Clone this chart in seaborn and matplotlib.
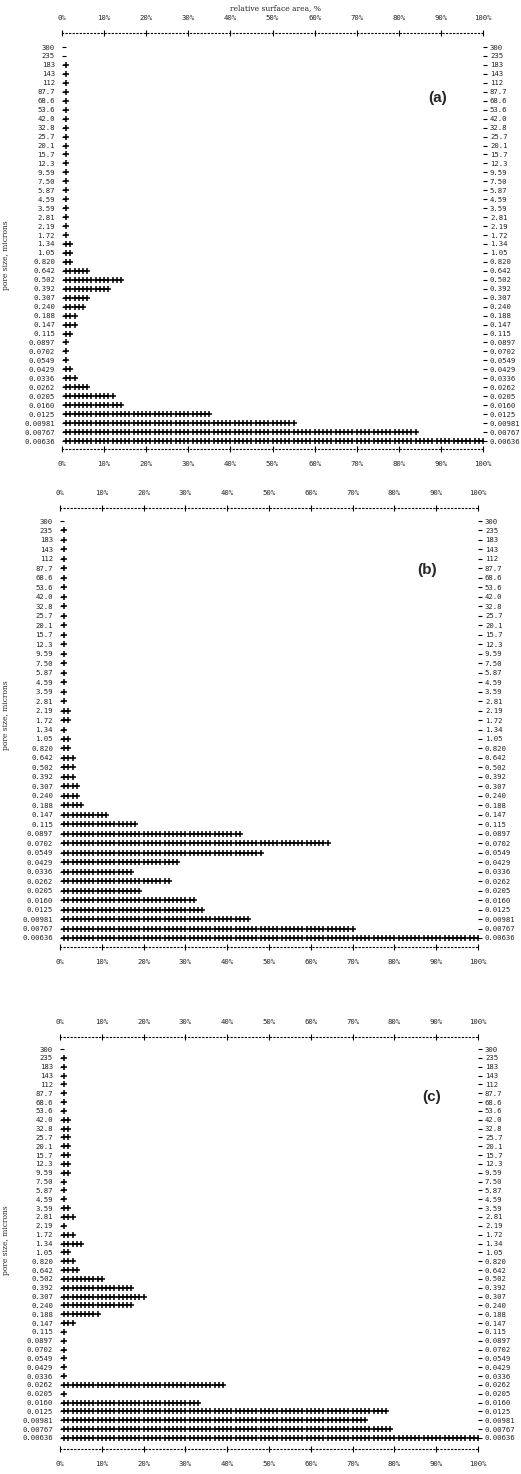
import numpy as np
import pandas as pd
import matplotlib
matplotlib.use("Agg")
import matplotlib.pyplot as plt
import seaborn as sns

# ---------------- data ----------------
pore_sizes = ["300", "235", "183", "143", "112", "87.7", "68.6", "53.6", "42.0",
              "32.8", "25.7", "20.1", "15.7", "12.3", "9.59", "7.50", "5.87",
              "4.59", "3.59", "2.81", "2.19", "1.72", "1.34", "1.05", "0.820",
              "0.642", "0.502", "0.392", "0.307", "0.240", "0.188", "0.147",
              "0.115", "0.0897", "0.0702", "0.0549", "0.0429", "0.0336",
              "0.0262", "0.0205", "0.0160", "0.0125", "0.00981", "0.00767",
              "0.00636"]

# relative surface area, % (one '+' per percent)
area_a = [0, 0, 1, 1, 1, 1, 1, 1, 1, 1, 1, 1, 1, 1, 1, 1, 1, 1, 1, 1, 1, 1,
          2, 2, 2, 6, 14, 11, 6, 5, 3, 3, 2, 1, 1, 1, 2, 3, 6, 12, 14, 35,
          55, 84, 100]
area_b = [0, 1, 1, 1, 1, 1, 1, 1, 1, 1, 1, 1, 1, 1, 1, 1, 1, 1, 1, 1, 2, 2,
          1, 2, 2, 3, 3, 3, 4, 4, 5, 11, 18, 43, 64, 48, 28, 17, 26, 19, 32,
          34, 45, 70, 100]
area_c = [0, 1, 1, 1, 1, 1, 1, 1, 2, 2, 2, 2, 2, 2, 2, 1, 1, 1, 2, 3, 1, 3,
          5, 2, 3, 4, 10, 17, 20, 17, 9, 3, 1, 1, 1, 1, 1, 1, 39, 1, 33, 78,
          73, 79, 100]

pct_ticks = [0, 10, 20, 30, 40, 50, 60, 70, 80, 90, 100]
pct_labels = ["0%", "10%", "20%", "30%", "40%", "50%", "60%", "70%", "80%",
              "90%", "100%"]
panel_tags = ["(a)", "(b)", "(c)"]

# ---------------- figure ----------------
W, H = 521, 1474
DPI = 100
sns.set_theme(style="white")
plt.rcParams["font.family"] = ["DejaVu Sans Mono", "DejaVu Sans"]
fig = plt.figure(figsize=(W / DPI, H / DPI), dpi=DPI)
fig.patch.set_facecolor("white")

# panel geometry in pixels: x0, x100, row0_y, rowlast_y, top_spine_y, bottom_spine_y
geoms = [
    (62, 483, 47, 441, 33, 449),
    (60, 478, 521, 938, 508, 947),
    (60, 478, 1049, 1438, 1037, 1449),
]
tag_pos = [(438, 98), (427, 570), (432, 1097)]
ylab_pos = [255, 715, 1240]

nrows = len(pore_sizes)
for k, (vals, g) in enumerate(zip([area_a, area_b, area_c], geoms)):
    x0, x1, r0, rl, ts, bs = g
    step = (rl - r0) / (nrows - 1)
    ytop = (ts - r0) / step
    ybot = (bs - r0) / step
    ax = fig.add_axes([x0 / W, 1 - bs / H, (x1 - x0) / W, (bs - ts) / H])

    rows = []
    for i, v in enumerate(vals):
        for j in range(1, int(v) + 1):
            rows.append({"pct": j, "row": i})
    df = pd.DataFrame(rows)
    sns.scatterplot(data=df, x="pct", y="row", marker="+", s=14,
                    color="black", linewidth=1.1, ax=ax, legend=False)

    ax.set_xlim(0, 100)
    ax.set_ylim(ybot, ytop)
    ax.set_xlabel("")
    ax.set_ylabel("")
    ax.set_facecolor("white")

    ax.set_xticks(pct_ticks)
    ax.set_xticklabels(pct_labels)
    ax.tick_params(axis="x", which="both", top=True, bottom=True,
                   labeltop=True, labelbottom=True, direction="inout",
                   length=5, width=0.8, color="black", labelsize=5.2,
                   pad=6, labelcolor="#222222")

    ax.set_yticks(range(nrows))
    ax.set_yticklabels(pore_sizes)
    ax.tick_params(axis="y", which="both", left=True, right=True,
                   labelleft=True, labelright=True, direction="out",
                   length=3, width=0.8, color="black", labelsize=5.2,
                   pad=2, labelcolor="#222222")
    # left tick drawn inside (like the leading '-' of each printed row)
    for t in ax.yaxis.get_major_ticks():
        t.tick1line.set_marker(matplotlib.lines.TICKRIGHT)
        t.tick1line.set_markersize(3)

    for side in ["left", "right"]:
        ax.spines[side].set_visible(False)
    for side in ["top", "bottom"]:
        ax.spines[side].set_visible(True)
        ax.spines[side].set_linestyle((0, (1, 2.2)))
        ax.spines[side].set_linewidth(0.8)
        ax.spines[side].set_color("black")
    ax.grid(False)

    tx, ty = tag_pos[k]
    fig.text(tx / W, 1 - ty / H, panel_tags[k], fontsize=11, fontweight="bold",
             family="Liberation Sans", ha="center", va="center")
    fig.text(6 / W, 1 - ylab_pos[k] / H, "pore size, microns", rotation=90,
             fontsize=5.5, family="DejaVu Serif", ha="center", va="center")

fig.text(275 / W, 1 - 8 / H, "relative surface area, %", fontsize=5.5,
         family="DejaVu Serif", ha="center", va="center")

fig.savefig("out.png", dpi=DPI, facecolor="white")
